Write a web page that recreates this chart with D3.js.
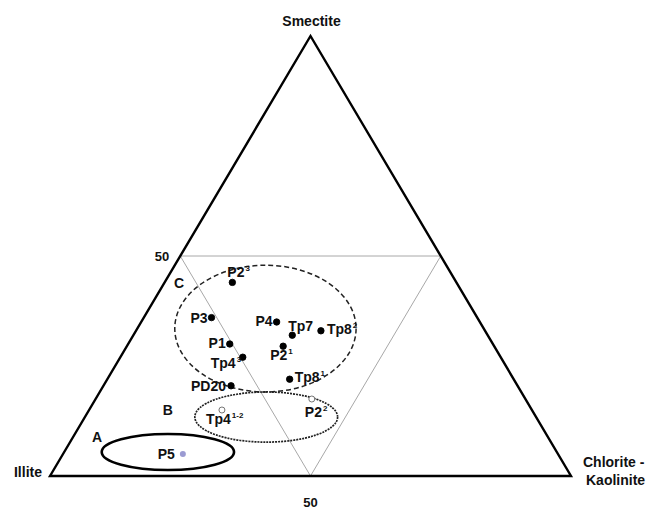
<!DOCTYPE html>
<html><head><meta charset="utf-8">
<script src="https://cdn.jsdelivr.net/npm/d3@7"></script>
<style>body{margin:0;background:#fff}text{font-family:"Liberation Sans",Arial,sans-serif;font-weight:bold;fill:#111}</style>
</head><body><svg id="c" width="649" height="509"></svg>
<script>
// ---- data (percentages: smectite / illite / chlorite-kaolinite) ----
const sampleNames = ["P2","P3","P4","Tp7","Tp8","P1","Tp4","P2","Tp8","PD20","Tp4","P2","P5"];
const sampleSup   = ["3","","","","2","","3","1","1","","1-2","2",""];
const smectite    = [44, 36, 35, 32, 33, 30, 27, 29.5, 22, 20.5, 15, 17.5, 5];
const illite      = [43, 51, 39, 37.5, 31.5, 50.5, 49.5, 40.5, 43, 55, 59.5, 41, 72];
const chlorite    = [13, 13, 26, 30.5, 35.5, 19.5, 23.5, 30, 35, 24.5, 25.5, 41.5, 23];
const sampleType  = ["filled","filled","filled","filled","filled","filled","filled","filled","filled","filled","open","open","blue"];
const apexNames   = ["Smectite","Illite","Chlorite -","Kaolinite"];
const tickLabels  = ["50","50"];
const zoneNames   = ["A","B","C"];
const zoneSmectite= [8.9, 15, 43.9];
const zoneChlorite= [4.6, 15.1, 2.8];
// zone ellipses: centre composition and half-axes (fractions of base width / height)
const ellSmectite = [5.45, 13.4, 33.5];
const ellChlorite = [19.9, 34.8, 24.6];
const ellRx       = [12.7, 13.7, 17.4];
const ellRy       = [4.1, 5.7, 14.4];

(function(){
const svg = d3.select("#c");
const xS = d3.scaleLinear().domain([0,100]).range([50,571]);
const yS = d3.scaleLinear().domain([0,100]).range([476,36]);
const P = (s,c) => [xS(c + s/2), yS(s)];

// inner (50%) triangle
const mids = [P(50,0), P(50,50), P(0,50)];
svg.append("path").attr("d", d3.line()([...mids, mids[0]]))
  .attr("fill","none").attr("stroke","#a8a8a8").attr("stroke-width",1);

// outer triangle
const verts = [P(0,0), P(100,0), P(0,100)];
svg.append("path").attr("d", d3.line()(verts) + "Z")
  .attr("fill","none").attr("stroke","#000").attr("stroke-width",2.4).attr("stroke-linejoin","miter");

// ellipses
const ellStyles = [
  {stroke:"#000", w:2.6, dash:null},
  {stroke:"#222", w:1.7, dash:"2,1"},
  {stroke:"#222", w:1.5, dash:"5,3"}
];
ellSmectite.forEach((s,i)=>{
  const [cx,cy] = P(s, ellChlorite[i]);
  const e = svg.append("ellipse").attr("cx",cx).attr("cy",cy)
    .attr("rx", xS(ellRx[i]) - xS(0)).attr("ry", yS(0) - yS(ellRy[i]))
    .attr("fill","none").attr("stroke",ellStyles[i].stroke).attr("stroke-width",ellStyles[i].w);
  if (ellStyles[i].dash) e.attr("stroke-dasharray", ellStyles[i].dash);
});

// zone letters
zoneNames.forEach((n,i)=>{
  const [x,y] = P(zoneSmectite[i], zoneChlorite[i]);
  svg.append("text").attr("x",x).attr("y",y+5).attr("text-anchor","middle")
    .attr("font-size",14).text(n);
});

// apex labels
const apexTop = P(100,0), apexLeft = P(0,0), apexRight = P(0,100);
svg.append("text").attr("x",apexTop[0]+1).attr("y",26).attr("text-anchor","middle").attr("font-size",14).text(apexNames[0]);
svg.append("text").attr("x",apexLeft[0]-8).attr("y",apexLeft[1]+1).attr("text-anchor","end").attr("font-size",14).text(apexNames[1]);
svg.append("text").attr("x",apexRight[0]+12).attr("y",apexRight[1]-9).attr("font-size",14).text(apexNames[2]);
svg.append("text").attr("x",apexRight[0]+15).attr("y",apexRight[1]+9).attr("font-size",14).text(apexNames[3]);

// 50 ticks
const tl = P(50,0), tb = P(0,50);
svg.append("text").attr("x",tl[0]-11).attr("y",tl[1]+5).attr("text-anchor","end").attr("font-size",13).text(tickLabels[0]);
svg.append("text").attr("x",tb[0]).attr("y",tb[1]+31).attr("text-anchor","middle").attr("font-size",13).text(tickLabels[1]);

// sample label offsets [dx, dy, anchor]
const labelOff = [
  [-5,-5,"start"],[-4,5,"end"],[-4,4,"end"],[-4,-4,"start"],[6,3,"start"],
  [-4,4,"end"],[-32,11,"start"],[-13,14,"start"],[5,3,"start"],[-5,5,"end"],
  [-16,14,"start"],[-7,18,"start"],[-8,5,"end"]
];

sampleNames.forEach((n,i)=>{
  const [x,y] = P(smectite[i], chlorite[i]);
  const t = sampleType[i];
  svg.append("circle").attr("cx",x).attr("cy",y)
    .attr("r", t==="filled" ? 3.2 : 3)
    .attr("fill", t==="filled" ? "#000" : t==="open" ? "#fff" : "#9b9bd2")
    .attr("stroke", t==="filled" ? "#000" : t==="open" ? "#666" : "none")
    .attr("stroke-width", 0.9);
  const o = labelOff[i];
  const txt = svg.append("text").attr("x",x+o[0]).attr("y",y+o[1])
    .attr("text-anchor",o[2]).attr("font-size",14);
  txt.append("tspan").text(n);
  if (sampleSup[i]) txt.append("tspan").attr("font-size",8).attr("dy",-6).attr("dx",1).text(sampleSup[i]);
});
})();
</script></body></html>
